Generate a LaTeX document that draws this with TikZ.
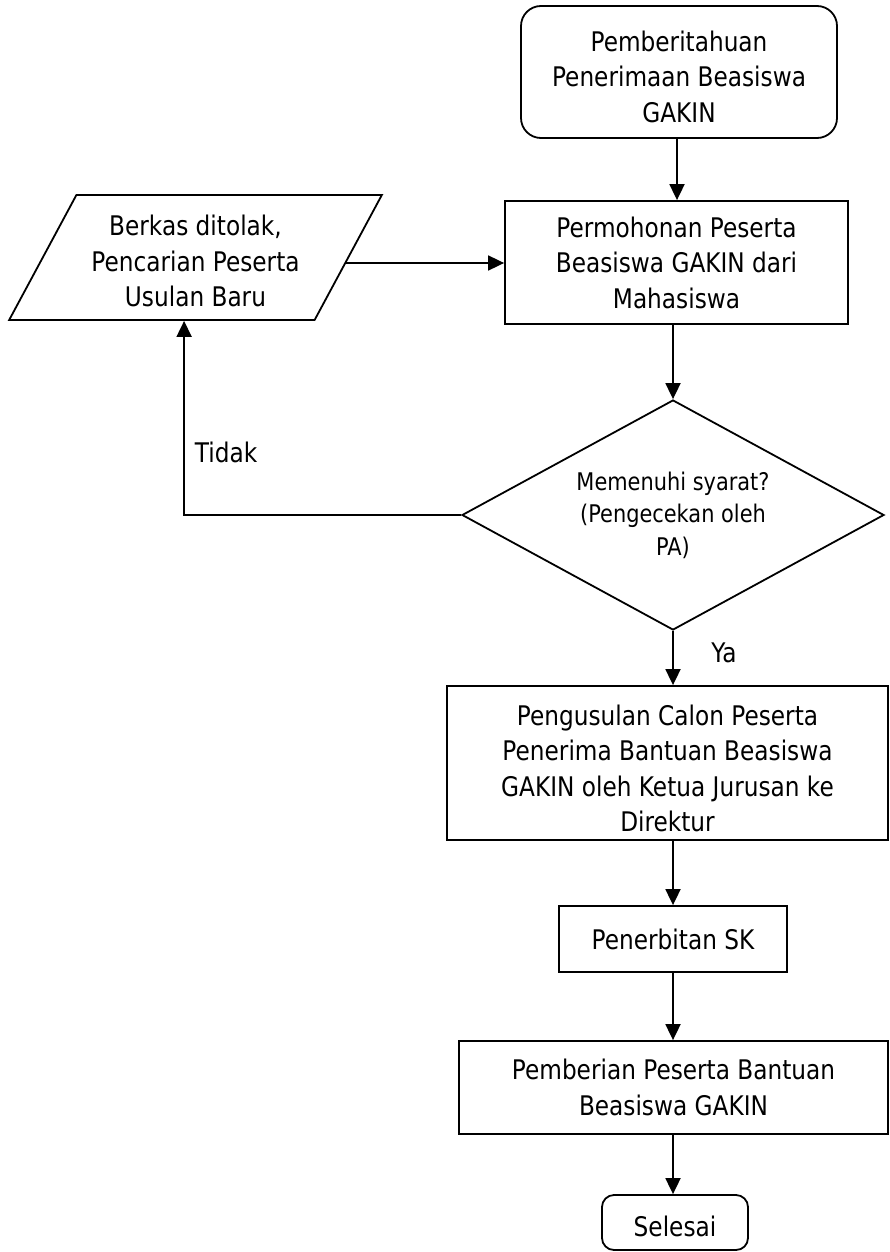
\documentclass[tikz,border=0pt]{standalone}
\usepackage{fontspec}
\setmainfont{DejaVu Sans}[FakeStretch=0.86]
\usetikzlibrary{shapes.geometric,arrows.meta}

\tikzset{
  base/.style={draw=black, line width=1.8pt, align=center, inner sep=0pt,
    font=\fontsize{27}{35.5}\selectfont},
  termbox/.style={base, rounded corners=20pt},
  procbox/.style={base, rectangle},
  decbox/.style={base, diamond, aspect=1.835, font=\fontsize{24.3}{32.5}\selectfont},
  iobox/.style={base, trapezium, trapezium left angle=59.4, trapezium right angle=120.6,
    trapezium stretches=true},
  lbl/.style={inner sep=0pt, font=\fontsize{27}{35}\selectfont},
  flow/.style={draw=black, line width=1.8pt, -{Triangle[width=15pt,length=16pt]}}
}

\begin{document}
\begin{tikzpicture}[x=1pt, y=-1pt]
  \useasboundingbox (0,0) rectangle (889,1252);

  % main column of steps
  \node[termbox, minimum width=316, minimum height=132] (start) at (679,72)
    {\rule{0pt}{30pt}Pemberitahuan\\Penerimaan Beasiswa\\GAKIN};
  \node[procbox, minimum width=343, minimum height=123] (req) at (676.5,262.5)
    {Permohonan Peserta\\Beasiswa GAKIN dari\\Mahasiswa};
  \node[decbox, minimum width=422, minimum height=230] (chk) at (673,515)
    {Memenuhi syarat?\\(Pengecekan oleh\\PA)};
  \node[procbox, minimum width=441, minimum height=154] (prop) at (667.5,763)
    {\rule{0pt}{31pt}Pengusulan Calon Peserta\\Penerima Bantuan Beasiswa\\GAKIN oleh Ketua Jurusan ke\\Direktur};
  \node[procbox, minimum width=228, minimum height=66] (sk) at (673,939)
    {Penerbitan SK};
  \node[procbox, minimum width=429, minimum height=93] (give) at (673.5,1087.5)
    {Pemberian Peserta Bantuan\\Beasiswa GAKIN};
  \node[base, rounded corners=12pt, minimum width=146, minimum height=55] (end) at (675,1222.5)
    {\rule{0pt}{28pt}Selesai};

  % rejected branch
  \node[iobox, minimum width=373, minimum height=125] (rej) at (195.5,257.5)
    {\rule{0pt}{28pt}Berkas ditolak,\\Pencarian Peserta\\Usulan Baru};

  % labels on the decision branches
  \node[lbl] (no) at (226,452) {Tidak};
  \node[lbl] (yes) at (724,653) {Ya};

  % connectors
  \draw[flow] (start.south -| 677,0) -- (req.north -| 677,0);
  \draw[flow] (req.south -| chk.north) -- (chk.north);
  \draw[flow] (chk.south) -- (prop.north -| chk.south);
  \draw[flow] (prop.south -| sk.north) -- (sk.north);
  \draw[flow] (sk.south) -- (give.north -| sk.south);
  \draw[flow] (give.south -| sk.south) -- (end.north -| sk.south);
  \draw[flow] (chk.west) -- ++(-277,0) coordinate (turn) -- (turn |- rej.south);
  \draw[flow] ([shift={(-3.3,5.5)}]rej.east) coordinate (out) -- (out -| req.west);
\end{tikzpicture}
\end{document}
